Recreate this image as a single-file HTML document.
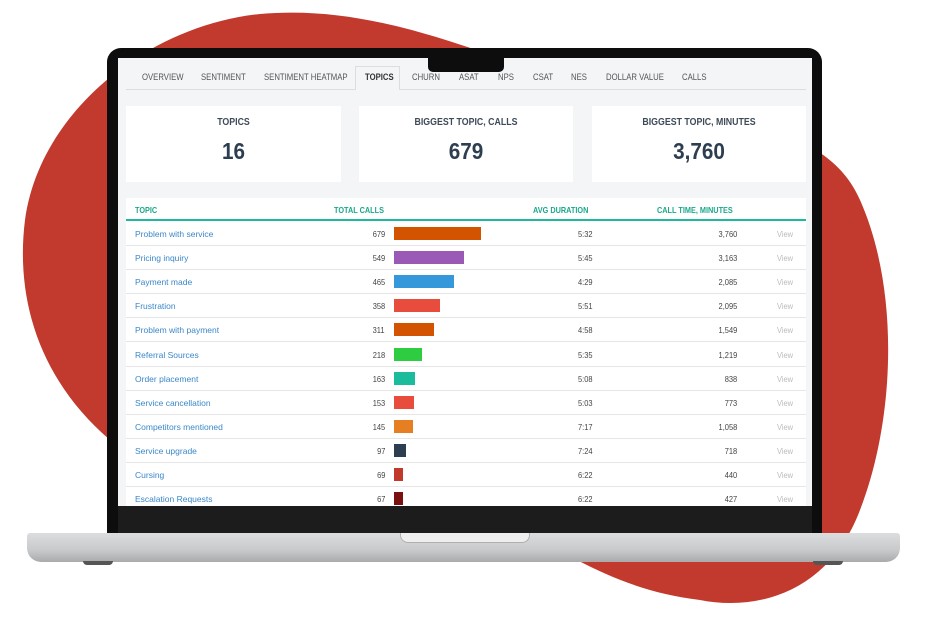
<!DOCTYPE html>
<html><head><meta charset="utf-8"><style>
*{margin:0;padding:0;box-sizing:border-box}
body{width:930px;height:630px;background:#fff;position:relative;overflow:hidden;font-family:"Liberation Sans Narrow","Liberation Sans",sans-serif}
.a{position:absolute}
.tab{position:absolute;top:72px;font-size:9px;color:#555;white-space:nowrap;transform:scaleX(.86);transform-origin:left}
.card{position:absolute;top:106px;height:76px;background:#fff;text-align:center;color:#2c3e50}
.card .t{font-size:10px;font-weight:bold;margin-top:11px;color:#3d4a57;transform:scaleX(.88)}
.card .v{font-size:23px;font-weight:bold;margin-top:10px;color:#2c3e50;transform:scaleX(.9)}
.row{position:absolute;left:126px;width:680px;height:24px;border-bottom:1px solid #e6e6e6;font-size:8.5px}
.row span{position:absolute;top:7px;white-space:nowrap}
.row .tp{font-family:"Liberation Sans",sans-serif;font-size:8.5px}
.row .l{transform:scaleX(.88);transform-origin:left}
.row .r{transform:scaleX(.88);transform-origin:right}
.th{position:absolute;top:205px;font-size:8.5px;font-weight:bold;color:#1aa889;transform:scaleX(.86);transform-origin:left}
</style></head><body>
<svg class="a" style="left:0;top:0" width="930" height="630"><path d="M260 14 C360 5 450 40 560 80 C700 130 820 110 860 200 C900 290 895 420 860 510 C830 590 760 612 700 600 C620 590 580 560 500 520 L110 440 C40 380 15 300 25 220 C40 110 150 25 260 14Z" fill="#c13a2d"/></svg>
<div class="a" style="left:107px;top:48px;width:715px;height:487px;background:#0d0d0d;border-radius:14px 14px 0 0"></div>
<div class="a" style="left:118px;top:58px;width:694px;height:448px;background:#f4f5f7;overflow:hidden"></div>
<div class="a" style="left:118px;top:506px;width:694px;height:28px;background:#1c1c1c"></div>
<div class="a" style="left:428px;top:48px;width:76px;height:24px;background:#0d0d0d;border-radius:0 0 5px 5px"></div>
<div class="a" style="left:126px;top:89px;width:680px;height:1px;background:#ddd"></div>
<div class="a" style="left:355px;top:66px;width:45px;height:24px;background:#f4f5f7;border:1px solid #ddd;border-bottom:none"></div>
<div class="tab" style="left:142px">OVERVIEW</div>
<div class="tab" style="left:201px">SENTIMENT</div>
<div class="tab" style="left:264px">SENTIMENT HEATMAP</div>
<div class="tab" style="left:365px;font-weight:bold;color:#333">TOPICS</div>
<div class="tab" style="left:412px">CHURN</div>
<div class="tab" style="left:459px">ASAT</div>
<div class="tab" style="left:498px">NPS</div>
<div class="tab" style="left:533px">CSAT</div>
<div class="tab" style="left:571px">NES</div>
<div class="tab" style="left:606px">DOLLAR VALUE</div>
<div class="tab" style="left:682px">CALLS</div>
<div class="card" style="left:126px;width:215px"><div class="t">TOPICS</div><div class="v">16</div></div>
<div class="card" style="left:359px;width:214px"><div class="t">BIGGEST TOPIC, CALLS</div><div class="v">679</div></div>
<div class="card" style="left:592px;width:214px"><div class="t">BIGGEST TOPIC, MINUTES</div><div class="v">3,760</div></div>
<div class="a" style="left:126px;top:198px;width:680px;height:308px;background:#fff"></div>
<div class="th" style="left:135px">TOPIC</div>
<div class="th" style="left:334px">TOTAL CALLS</div>
<div class="th" style="left:533px">AVG DURATION</div>
<div class="th" style="left:657px">CALL TIME, MINUTES</div>
<div class="a" style="left:126px;top:219px;width:680px;height:2px;background:#1fb89a"></div>
<div id="rows"></div>
<div class="a" style="left:27px;top:533px;width:873px;height:29px;background:linear-gradient(#dcdddf,#c8c9cb 60%,#a9aaac);border-radius:3px 3px 14px 14px"></div>
<div class="a" style="left:400px;top:533px;width:130px;height:10px;background:#eeeeee;border-radius:0 0 8px 8px;border:1px solid #b0b0b0;border-top:none"></div>
<div class="a" style="left:83px;top:561px;width:30px;height:4px;background:#555;border-radius:0 0 4px 4px"></div>
<div class="a" style="left:813px;top:561px;width:30px;height:4px;background:#555;border-radius:0 0 4px 4px"></div>
<script>
var d=[["Problem with service",679,"5:32","3,760","#d35400"],["Pricing inquiry",549,"5:45","3,163","#9b59b6"],["Payment made",465,"4:29","2,085","#3498db"],["Frustration",358,"5:51","2,095","#e74c3c"],["Problem with payment",311,"4:58","1,549","#d35400"],["Referral Sources",218,"5:35","1,219","#2ecc40"],["Order placement",163,"5:08","838","#1abc9c"],["Service cancellation",153,"5:03","773","#e74c3c"],["Competitors mentioned",145,"7:17","1,058","#e67e22"],["Service upgrade",97,"7:24","718","#2c3e50"],["Cursing",69,"6:22","440","#c0392b"],["Escalation Requests",67,"6:22","427","#7b1010"]];
var h="";d.forEach(function(r,i){var t=222+i*24.1;var last=i==11?"border-bottom:none;height:20px;overflow:hidden;":"";
h+='<div class="row" style="top:'+t+'px;'+last+'"><span class="tp" style="left:9px;color:#3a87c8">'+r[0]+'</span><span class="r" style="right:421px;color:#444">'+r[1]+'</span><span style="left:268px;top:5px;width:'+Math.round(r[1]*0.128)+'px;height:13px;background:'+r[4]+'"></span><span class="r" style="right:213px;color:#444">'+r[2]+'</span><span class="r" style="right:69px;color:#444">'+r[3]+'</span><span class="l" style="left:651px;color:#bbb">View</span></div>';});
document.getElementById("rows").innerHTML=h;
</script>
</body></html>
